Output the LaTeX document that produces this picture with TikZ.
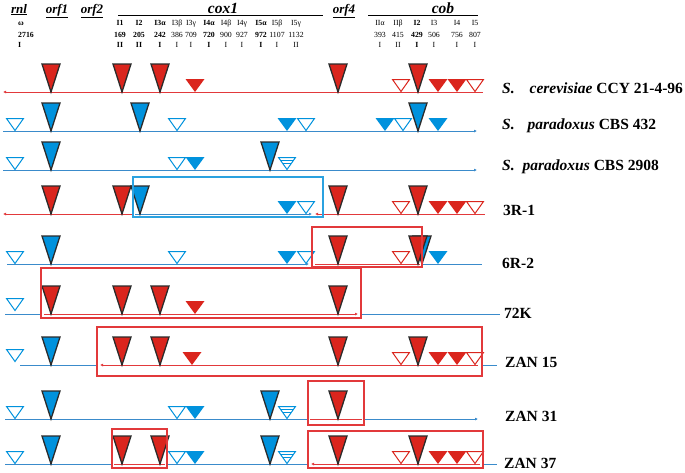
\documentclass[tikz,border=0pt]{standalone}
\usepackage{fontspec}
\setmainfont{Liberation Serif}
\usetikzlibrary{arrows.meta}

\definecolor{mtred}{HTML}{DA251D}
\definecolor{mtblue}{HTML}{0092DD}
\definecolor{lnred}{HTML}{E2393B}
\definecolor{lnblue}{HTML}{3A8BCB}
\definecolor{boxblue}{HTML}{2BA2E0}
\definecolor{tridark}{HTML}{2B2B2B}

\newcommand{\bigtri}[3]{\filldraw[bigtri, fill=#3] (#1-9,#2-28) -- (#1+9,#2-28) -- (#1,#2) -- cycle;}
\newcommand{\fulltri}[3]{\fill[#3] (#1-9.5,#2-13) -- (#1+9.5,#2-13) -- (#1,#2) -- cycle;}
\newcommand{\opentri}[3]{\filldraw[opentri, draw=#3] (#1-8.5,#2-12.5) -- (#1+8.5,#2-12.5) -- (#1,#2-0.5) -- cycle;}
\newcommand{\stripetri}[2]{\opentri{#1}{#2}{mtblue}%
  \draw[mtblue, line width=0.8pt] (#1-7,#2-10) -- (#1+7,#2-10) (#1-4,#2-6.5) -- (#1+4,#2-6.5);}

\begin{document}
\begin{tikzpicture}[x=1pt, y=-1pt,
  gene/.style={font=\fontsize{13}{15}\selectfont\bfseries\itshape, anchor=base, inner sep=0pt},
  big/.style={font=\fontsize{15.5}{17}\selectfont\bfseries\itshape, anchor=base, inner sep=0pt},
  hd/.style={font=\fontsize{7.8}{9}\selectfont, anchor=base, inner sep=0pt},
  lbl/.style={font=\fontsize{15.5}{18}\selectfont\bfseries, anchor=base west, inner sep=0pt},
  bigtri/.style={draw=tridark, line width=1.3pt},
  opentri/.style={fill=white, line width=1pt},
  redln/.style={draw=lnred, line width=1pt},
  blueln/.style={draw=lnblue, line width=1pt},
  redbox/.style={draw=lnred, line width=1.4pt},
  bluebox/.style={draw=boxblue, line width=1.4pt},
  >={Latex[length=3pt,width=3pt]}]
\useasboundingbox (0,0) rectangle (685,472);

\node[gene] (rnl) at (19,13) {\underline{rnl}};
\node[gene] (orf1) at (57,13) {\underline{orf1}};
\node[gene] (orf2) at (92,13) {\underline{orf2}};
\node[gene] (orf4) at (344,13) {\underline{orf4}};
\node[big] (cox1) at (223,13) {cox1};
\node[big] (cob) at (443,13) {cob};
\draw[line width=0.8pt] (118,15) -- (323,15);
\draw[line width=0.8pt] (368,15) -- (478,15);

\node[hd, anchor=base west, font=\fontsize{7.8}{9}\selectfont\bfseries] (rnla) at (18,25) {ω};
\node[hd, anchor=base west, font=\fontsize{7.8}{9}\selectfont\bfseries] (rnlb) at (18,37) {2716};
\node[hd, anchor=base west, font=\fontsize{7.8}{9}\selectfont\bfseries] (rnlc) at (18,47) {I};
\foreach \x/\nm/\num/\cl/\wt in {120/I1/169/II/\bfseries, 139/I2/205/II/\bfseries,
    160/I3α/242/I/\bfseries, 177/I3β/386/I/\mdseries, 191/I3γ/709/I/\mdseries,
    209/I4α/720/I/\bfseries, 226/I4β/900/I/\mdseries, 242/I4γ/927/I/\mdseries,
    261/I5α/972/I/\bfseries, 277/I5β/1107/I/\mdseries, 296/I5γ/1132/II/\mdseries,
    380/IIα/393/I/\mdseries, 398/IIβ/415/II/\mdseries, 417/I2/429/I/\bfseries,
    434/I3/506/I/\mdseries, 457/I4/756/I/\mdseries, 475/I5/807/I/\mdseries} {
  \node[hd, font=\fontsize{7.8}{9}\selectfont\wt] (n\x) at (\x,25) {\nm};
  \node[hd, font=\fontsize{7.8}{9}\selectfont\wt] (s\x) at (\x,37) {\num};
  \node[hd, font=\fontsize{7.8}{9}\selectfont\wt] (c\x) at (\x,47) {\cl};
}

% S. cerevisiae
\draw[redln, <-] (3,92) -- (483,92);
\foreach \x in {51,122,160,338,418} {\bigtri{\x}{92}{mtred}}
\foreach \x in {195,438,457} {\fulltri{\x}{92}{mtred}}
\foreach \x in {401,475} {\opentri{\x}{92}{mtred}}
\node[lbl] (scer) at (502,93) {\textit{S.}\hspace{15pt}\textit{cerevisiae} CCY 21-4-96};

% S. paradoxus CBS 432
\draw[blueln, ->] (3,131) -- (477,131);
\foreach \x in {51,140,418} {\bigtri{\x}{131}{mtblue}}
\foreach \x in {287,385,438} {\fulltri{\x}{131}{mtblue}}
\foreach \x in {15,177,306,403} {\opentri{\x}{131}{mtblue}}
\node[lbl] (spar) at (502,129) {\textit{S.}\hspace{13pt}\textit{paradoxus} CBS 432};

% S. paradoxus CBS 2908
\draw[blueln, ->] (3,170) -- (477,170);
\foreach \x in {51,270} {\bigtri{\x}{170}{mtblue}}
\fulltri{195}{170}{mtblue}
\foreach \x in {15,177} {\opentri{\x}{170}{mtblue}}
\stripetri{287}{170}
\node[lbl] (sparb) at (502,170) {\textit{S.}\hspace{8pt}\textit{paradoxus} CBS 2908};

% 3R-1
\draw[redln, <-] (3,214) -- (133,214);
\draw[blueln, ->] (135,214) -- (312,214);
\draw[redln, <-] (315,214) -- (485,214);
\foreach \x in {51,122,338,418} {\bigtri{\x}{214}{mtred}}
\bigtri{140}{214}{mtblue}
\fulltri{287}{214}{mtblue}
\opentri{306}{214}{mtblue}
\foreach \x in {438,457} {\fulltri{\x}{214}{mtred}}
\foreach \x in {401,475} {\opentri{\x}{214}{mtred}}
\draw[bluebox] (133,177) rectangle (323,217);
\node[lbl] (r31) at (503,215) {3R-1};

% 6R-2
\draw[blueln, ->] (7,264) -- (309,264);
\draw[redln] (315,264) -- (420,264);
\draw[blueln] (422,264) -- (482,264);
\bigtri{51}{264}{mtblue}
\foreach \x in {15,177,306} {\opentri{\x}{264}{mtblue}}
\foreach \x in {287,438} {\fulltri{\x}{264}{mtblue}}
\bigtri{338}{264}{mtred}
\opentri{401}{264}{mtred}
\bigtri{422}{264}{mtblue}
\bigtri{418}{264}{mtred}
\draw[redbox] (312,227) rectangle (422,267);
\node[lbl] (r62) at (502,268) {6R-2};

% 72K
\draw[blueln] (5,314) -- (41,314);
\draw[redln, ->] (44,314) -- (358,314);
\draw[blueln] (361,314) -- (500,314);
\opentri{15}{311}{mtblue}
\foreach \x in {51,122,160,338} {\bigtri{\x}{314}{mtred}}
\fulltri{195}{314}{mtred}
\draw[redbox] (41,268) rectangle (361,318);
\node[lbl] (k72) at (504,318) {72K};

% ZAN 15
\draw[blueln] (20,365) -- (97,365);
\draw[redln, <-] (100,365) -- (478,365);
\draw[blueln] (482,365) -- (497,365);
\opentri{15}{362}{mtblue}
\bigtri{51}{365}{mtblue}
\foreach \x in {122,160,338,418} {\bigtri{\x}{365}{mtred}}
\foreach \x in {192,438,457} {\fulltri{\x}{365}{mtred}}
\foreach \x in {401,475} {\opentri{\x}{365}{mtred}}
\draw[redbox] (97,327) rectangle (482,376);
\node[lbl] (z15) at (505,367) {ZAN 15};

% ZAN 31
\draw[blueln] (5,419) -- (308,419);
\draw[redln] (310,419) -- (362,419);
\draw[blueln, ->] (364,419) -- (478,419);
\foreach \x in {15,177} {\opentri{\x}{419}{mtblue}}
\foreach \x in {51,270} {\bigtri{\x}{419}{mtblue}}
\fulltri{195}{419}{mtblue}
\stripetri{287}{419}
\bigtri{338}{419}{mtred}
\draw[redbox] (308,381) rectangle (364,425);
\node[lbl] (z31) at (505,421) {ZAN 31};

% ZAN 37
\draw[blueln] (5,464) -- (112,464);
\draw[redln] (114,464) -- (165,464);
\draw[blueln] (167,464) -- (308,464);
\draw[redln, <-] (311,464) -- (480,464);
\draw[blueln] (483,464) -- (497,464);
\foreach \x in {15,177} {\opentri{\x}{464}{mtblue}}
\foreach \x in {51,270} {\bigtri{\x}{464}{mtblue}}
\fulltri{195}{464}{mtblue}
\stripetri{287}{464}
\foreach \x in {122,160,338,418} {\bigtri{\x}{464}{mtred}}
\foreach \x in {438,457} {\fulltri{\x}{464}{mtred}}
\foreach \x in {401,475} {\opentri{\x}{464}{mtred}}
\draw[redbox] (112,429) rectangle (167,468);
\draw[redbox] (308,431) rectangle (483,468);
\node[lbl] (z37) at (504,468) {ZAN 37};
\end{tikzpicture}
\end{document}
